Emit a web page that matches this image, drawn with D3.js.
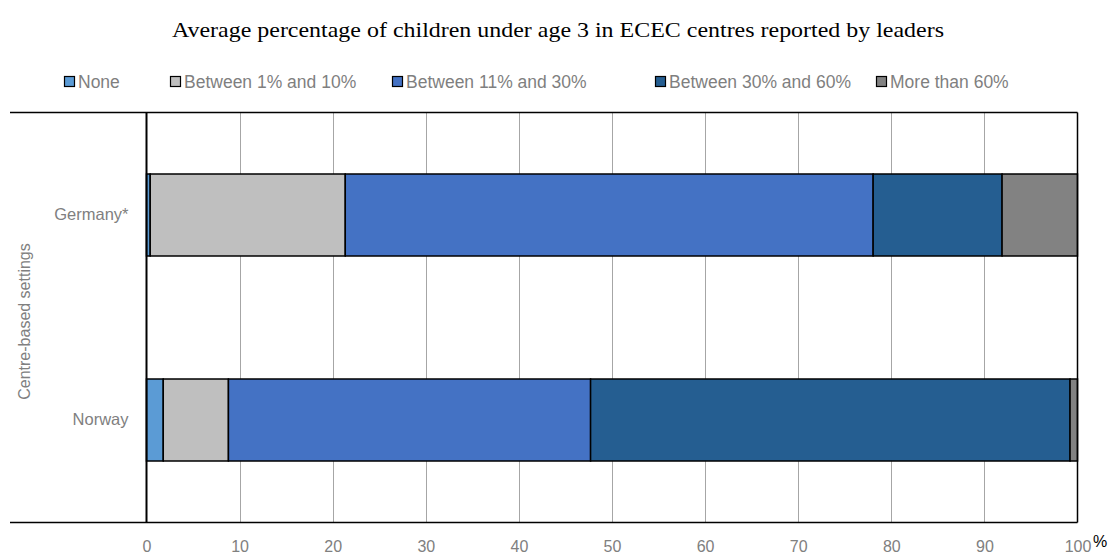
<!DOCTYPE html>
<html>
<head>
<meta charset="utf-8">
<script src="https://cdn.jsdelivr.net/npm/d3@7"></script>
<style>
  html, body { margin: 0; padding: 0; background: #fff; }
  svg { display: block; }
</style>
</head>
<body>
<svg id="chart" width="1118" height="556"></svg>
<script>
// Share of ECEC centres by percentage of children under age 3
const countries = ["Germany*", "Norway"];
const seriesNames = ["None", "Between 1% and 10%", "Between 11% and 30%", "Between 30% and 60%", "More than 60%"];
const seriesColors = ["#5B9BD5", "#BFBFBF", "#4472C4", "#255E91", "#828282"];
const none        = [0.4, 1.8];
const from1to10   = [20.95, 7.0];
const from11to30  = [56.7, 38.9];
const from30to60  = [13.85, 51.5];
const over60      = [8.1, 0.8];
const xTicks = [0, 10, 20, 30, 40, 50, 60, 70, 80, 90, 100];
const groupLabel = "Centre-based settings";
const title = "Average percentage of children under age 3 in ECEC centres reported by leaders";

const rows = countries.map((c, i) => ({
  country: c,
  "None": none[i],
  "Between 1% and 10%": from1to10[i],
  "Between 11% and 30%": from11to30[i],
  "Between 30% and 60%": from30to60[i],
  "More than 60%": over60[i]
}));

const svg = d3.select("#chart");
const sans = "'Liberation Sans', Arial, sans-serif";
const plot = { left: 146.5, right: 1077.5, top: 112.5, bottom: 522.5 };

const x = d3.scaleLinear().domain([0, 100]).range([plot.left, plot.right]);
const y = d3.scaleBand().domain(countries).range([plot.top, plot.bottom]).paddingInner(0.6).paddingOuter(0.3);
const color = d3.scaleOrdinal().domain(seriesNames).range(seriesColors);

// Title
svg.append("text")
  .attr("x", 558).attr("y", 37)
  .attr("text-anchor", "middle")
  .attr("font-family", "'Liberation Serif', 'Times New Roman', serif")
  .attr("font-size", 21)
  .attr("textLength", 772)
  .attr("lengthAdjust", "spacingAndGlyphs")
  .attr("fill", "#000")
  .text(title);

// Legend
const legendX = [64, 170, 392, 655, 876];
const legend = svg.append("g");
seriesNames.forEach((s, i) => {
  const g = legend.append("g").attr("transform", `translate(${legendX[i]},0)`);
  g.append("rect").attr("x", 0.5).attr("y", 76.5).attr("width", 10).attr("height", 10)
    .attr("fill", color(s)).attr("stroke", "#000").attr("stroke-width", 1.2);
  g.append("text").attr("x", 14).attr("y", 88)
    .attr("font-family", sans).attr("font-size", 17.5).attr("fill", "#7f7f7f")
    .text(s);
});

// Vertical gridlines
svg.append("g").selectAll("line")
  .data(xTicks.filter(t => t > 0 && t < 100))
  .join("line")
  .attr("x1", d => Math.round(x(d)) + 0.5).attr("x2", d => Math.round(x(d)) + 0.5)
  .attr("y1", plot.top).attr("y2", plot.bottom)
  .attr("stroke", "#A6A6A6").attr("stroke-width", 1);

// Stacked bars
const stack = d3.stack().keys(seriesNames)(rows);
svg.append("g").selectAll("g")
  .data(stack)
  .join("g")
  .attr("fill", d => color(d.key))
  .selectAll("rect")
  .data(d => d)
  .join("rect")
  .attr("x", d => x(d[0]))
  .attr("width", d => x(d[1]) - x(d[0]))
  .attr("y", d => y(d.data.country))
  .attr("height", y.bandwidth())
  .attr("stroke", "#000")
  .attr("stroke-width", 1.5);

// Frame: top, bottom, right border and the zero axis
const frame = svg.append("g").attr("stroke", "#000");
frame.append("line").attr("x1", 10).attr("x2", plot.right).attr("y1", plot.top).attr("y2", plot.top).attr("stroke-width", 1.5);
frame.append("line").attr("x1", 10).attr("x2", plot.right).attr("y1", plot.bottom).attr("y2", plot.bottom).attr("stroke-width", 1.5);
frame.append("line").attr("x1", plot.right).attr("x2", plot.right).attr("y1", plot.top).attr("y2", plot.bottom).attr("stroke-width", 1.5);
frame.append("line").attr("x1", x(0)).attr("x2", x(0)).attr("y1", plot.top).attr("y2", plot.bottom).attr("stroke-width", 2);

// X axis labels
const xAxis = d3.axisBottom(x).tickValues(xTicks).tickSize(0).tickPadding(18);
const xg = svg.append("g").attr("transform", `translate(0,${plot.bottom})`).call(xAxis);
xg.select(".domain").remove();
xg.selectAll("text").attr("font-family", sans).attr("font-size", 16).attr("fill", "#808080");

svg.append("text").attr("x", 1100).attr("y", 547)
  .attr("text-anchor", "middle")
  .attr("font-family", sans).attr("font-size", 16).attr("fill", "#000")
  .text("%");

// Category labels
const yAxis = d3.axisLeft(y).tickSize(0).tickPadding(18);
const yg = svg.append("g").attr("transform", `translate(${plot.left},0)`).call(yAxis);
yg.select(".domain").remove();
yg.selectAll("text").attr("font-family", sans).attr("font-size", 16.5).attr("fill", "#808080");

// Group label
svg.append("text")
  .attr("transform", `translate(30,${(plot.top + plot.bottom) / 2 + 4}) rotate(-90)`)
  .attr("text-anchor", "middle")
  .attr("font-family", sans).attr("font-size", 16).attr("fill", "#808080")
  .text(groupLabel);
</script>
</body>
</html>
